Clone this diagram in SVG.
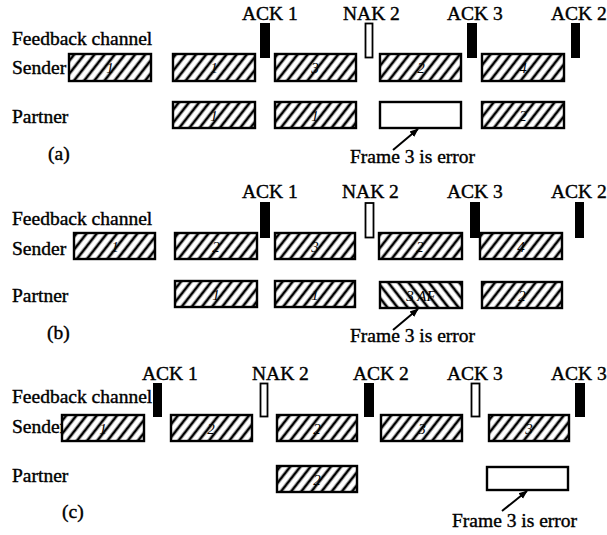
<svg xmlns="http://www.w3.org/2000/svg" width="607" height="535" viewBox="0 0 607 535">
<defs>
<pattern id="hatch" patternUnits="userSpaceOnUse" width="8" height="8" patternTransform="rotate(38)"><rect width="8" height="8" fill="#fff"/><line x1="4" y1="-1" x2="4" y2="9" stroke="#000" stroke-width="2.7"/></pattern>
<pattern id="bhatch" patternUnits="userSpaceOnUse" width="8" height="8" patternTransform="rotate(-38)"><rect width="8" height="8" fill="#fff"/><line x1="4" y1="-1" x2="4" y2="9" stroke="#000" stroke-width="2.7"/></pattern>
<marker id="arr" viewBox="0 0 10 10" refX="9" refY="5" markerWidth="9" markerHeight="9" markerUnits="userSpaceOnUse" orient="auto"><path d="M0,1 L10,5 L0,9 z" fill="#000"/></marker>
</defs>
<style>
text{font-family:"Liberation Serif","Times New Roman",serif;font-size:19.5px;fill:#000;stroke:#000;stroke-width:0.4}
.frame{fill:url(#hatch);stroke:#000;stroke-width:2.4}
.bframe{fill:url(#bhatch);stroke:#000;stroke-width:2.4}
.empty{fill:#fff;stroke:#000;stroke-width:2.4}
.ack{fill:#000}
.nak{fill:#fff;stroke:#000;stroke-width:1.8}
.num{font-size:15px;font-style:italic;text-anchor:middle;stroke-width:0}
.conn{stroke:#000;stroke-width:2;fill:none;marker-end:url(#arr)}
</style>
<rect width="607" height="535" fill="#fff"/>

<!-- Panel (a) -->
<g id="a-labels">
<text x="12" y="45">Feedback channel</text>
<text x="12" y="74">Sender</text>
<text x="12" y="123">Partner</text>
<text x="48" y="160">(a)</text>
</g>
<g id="a-ack1"><text x="242" y="20">ACK 1</text><rect class="ack" x="260" y="23" width="10" height="35"/></g>
<g id="a-nak2"><text x="343" y="20">NAK 2</text><rect class="nak" x="365.5" y="23.5" width="7" height="34"/></g>
<g id="a-ack3"><text x="447" y="20">ACK 3</text><rect class="ack" x="467" y="23" width="10" height="35"/></g>
<g id="a-ack2"><text x="551" y="20">ACK 2</text><rect class="ack" x="571" y="23" width="9" height="35"/></g>
<g id="a-s1"><rect class="frame" x="69" y="54" width="82" height="27"/><text class="num" x="110" y="73">1</text></g>
<g id="a-s2"><rect class="frame" x="173" y="54" width="82" height="27"/><text class="num" x="214" y="73">1</text></g>
<g id="a-s3"><rect class="frame" x="275" y="54" width="81" height="27"/><text class="num" x="315" y="73">3</text></g>
<g id="a-s4"><rect class="frame" x="380" y="54" width="81" height="27"/><text class="num" x="421" y="73">2</text></g>
<g id="a-s5"><rect class="frame" x="482" y="54" width="82" height="27"/><text class="num" x="523" y="73">4</text></g>
<g id="a-p1"><rect class="frame" x="173" y="102" width="82" height="26"/><text class="num" x="214" y="121">1</text></g>
<g id="a-p2"><rect class="frame" x="275" y="102" width="81" height="26"/><text class="num" x="315" y="121">1</text></g>
<g id="a-p3"><rect class="empty" x="380" y="102" width="81" height="26"/></g>
<g id="a-p4"><rect class="frame" x="482" y="102" width="82" height="26"/><text class="num" x="523" y="121">2</text></g>
<g id="a-err"><text x="350" y="163">Frame 3 is error</text></g>

<!-- Panel (b) -->
<g id="b-labels">
<text x="12" y="225">Feedback channel</text>
<text x="12" y="255">Sender</text>
<text x="12" y="302">Partner</text>
<text x="47" y="339">(b)</text>
</g>
<g id="b-ack1"><text x="242" y="198">ACK 1</text><rect class="ack" x="260" y="202" width="10" height="36"/></g>
<g id="b-nak2"><text x="342" y="198">NAK 2</text><rect class="nak" x="365.5" y="203" width="8" height="34.5"/></g>
<g id="b-ack3"><text x="447" y="198">ACK 3</text><rect class="ack" x="470" y="202" width="10" height="36"/></g>
<g id="b-ack2"><text x="551" y="198">ACK 2</text><rect class="ack" x="575" y="202" width="9" height="36"/></g>
<g id="b-s1"><rect class="frame" x="74" y="233" width="81" height="26"/><text class="num" x="115" y="252">1</text></g>
<g id="b-s2"><rect class="frame" x="175" y="233" width="82" height="26"/><text class="num" x="216" y="252">2</text></g>
<g id="b-s3"><rect class="frame" x="275" y="233" width="80" height="26"/><text class="num" x="315" y="252">3</text></g>
<g id="b-s4"><rect class="frame" x="379" y="233" width="83" height="26"/><text class="num" x="420" y="252">2</text></g>
<g id="b-s5"><rect class="frame" x="480" y="233" width="82" height="26"/><text class="num" x="521" y="252">4</text></g>
<g id="b-p1"><rect class="frame" x="175" y="281" width="82" height="26"/><text class="num" x="216" y="300">1</text></g>
<g id="b-p2"><rect class="frame" x="275" y="281" width="80" height="26"/><text class="num" x="315" y="300">1</text></g>
<g id="b-p3"><rect class="bframe" x="380" y="282" width="82" height="26"/><text class="num" x="421" y="301">3 AF</text></g>
<g id="b-p4"><rect class="frame" x="482" y="282" width="80" height="26"/><text class="num" x="522" y="301">2</text></g>
<g id="b-err"><text x="350" y="342">Frame 3 is error</text></g>

<!-- Panel (c) -->
<g id="c-labels">
<text x="12" y="403">Feedback channel</text>
<text x="12" y="433">Sender</text>
<text x="12" y="482">Partner</text>
<text x="62" y="518">(c)</text>
</g>
<g id="c-ack1"><text x="142" y="380">ACK 1</text><rect class="ack" x="153" y="383" width="9" height="34"/></g>
<g id="c-nak2"><text x="252" y="380">NAK 2</text><rect class="nak" x="260.5" y="383.5" width="7" height="33"/></g>
<g id="c-ack2"><text x="353" y="380">ACK 2</text><rect class="ack" x="364" y="383" width="10" height="34"/></g>
<g id="c-ack3a"><text x="447" y="380">ACK 3</text><rect class="nak" x="471.5" y="383.5" width="8" height="33"/></g>
<g id="c-ack3b"><text x="551" y="380">ACK 3</text><rect class="ack" x="575" y="383" width="10" height="34"/></g>
<g id="c-s1"><rect class="frame" x="62" y="415" width="82" height="26"/><text class="num" x="103" y="434">1</text></g>
<g id="c-s2"><rect class="frame" x="171" y="415" width="81" height="26"/><text class="num" x="211" y="434">2</text></g>
<g id="c-s3"><rect class="frame" x="277" y="415" width="80" height="26"/><text class="num" x="317" y="434">2</text></g>
<g id="c-s4"><rect class="frame" x="381" y="415" width="81" height="26"/><text class="num" x="422" y="434">3</text></g>
<g id="c-s5"><rect class="frame" x="489" y="415" width="80" height="26"/><text class="num" x="529" y="434">3</text></g>
<g id="c-p1"><rect class="frame" x="277" y="466" width="80" height="26"/><text class="num" x="317" y="485">2</text></g>
<g id="c-p2"><rect class="empty" x="487" y="467" width="81" height="23"/></g>
<g id="c-err"><text x="452" y="527">Frame 3 is error</text></g>

<g id="connectors">
<line class="conn" x1="393" y1="150" x2="418" y2="129"/>
<line class="conn" x1="393" y1="330" x2="418" y2="309"/>
<line class="conn" x1="502" y1="511" x2="527" y2="491"/>
</g>
</svg>
